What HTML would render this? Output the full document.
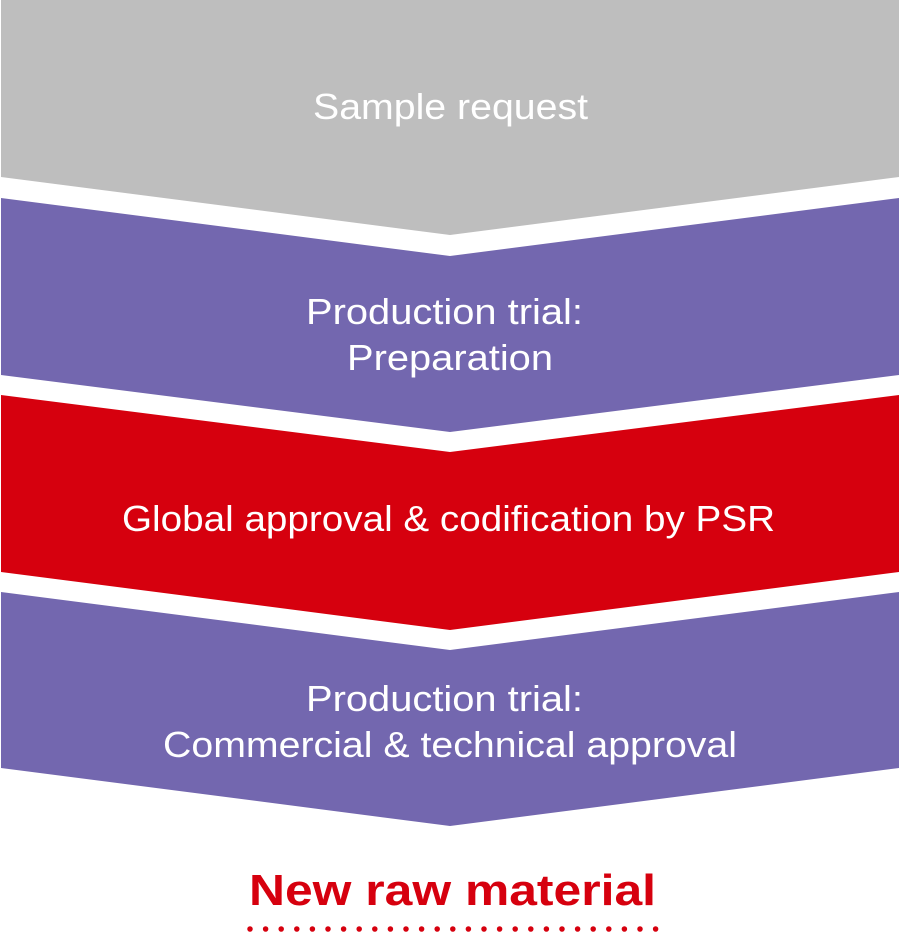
<!DOCTYPE html>
<html><head><meta charset="utf-8"><style>html,body{margin:0;padding:0;background:#fff;width:900px;height:949px;overflow:hidden}</style></head>
<body>
<svg width="900" height="949" viewBox="0 0 900 949" xmlns="http://www.w3.org/2000/svg" font-family="'Liberation Sans', sans-serif">
<polygon points="1,0 899,0 899,177 450,235 1,177" fill="#bebebe"/>
<polygon points="1,198 450,256 899,198 899,375 450,432 1,375" fill="#7367af"/>
<polygon points="1,395 450,452 899,395 899,572 450,630 1,572" fill="#d6000e"/>
<polygon points="1,592 450,650 899,592 899,768 450,826 1,768" fill="#7367af"/>
<g fill="#fff" font-size="36">
<text x="313" y="119" textLength="275" lengthAdjust="spacingAndGlyphs">Sample request</text>
<text x="306" y="324" textLength="277" lengthAdjust="spacingAndGlyphs">Production trial:</text>
<text x="347" y="370" textLength="206" lengthAdjust="spacingAndGlyphs">Preparation</text>
<text x="122" y="531" textLength="653" lengthAdjust="spacingAndGlyphs">Global approval &amp; codification by PSR</text>
<text x="306" y="711" textLength="277" lengthAdjust="spacingAndGlyphs">Production trial:</text>
<text x="163" y="757" textLength="574" lengthAdjust="spacingAndGlyphs">Commercial &amp; technical approval</text>
</g>
<text x="249" y="905" font-size="44" font-weight="bold" fill="#d6000e" textLength="407" lengthAdjust="spacingAndGlyphs">New raw material</text>
<line x1="250" y1="929" x2="656" y2="929" stroke="#d6000e" stroke-width="5.5" stroke-linecap="round" stroke-dasharray="0 15.6"/>
</svg>
</body></html>
